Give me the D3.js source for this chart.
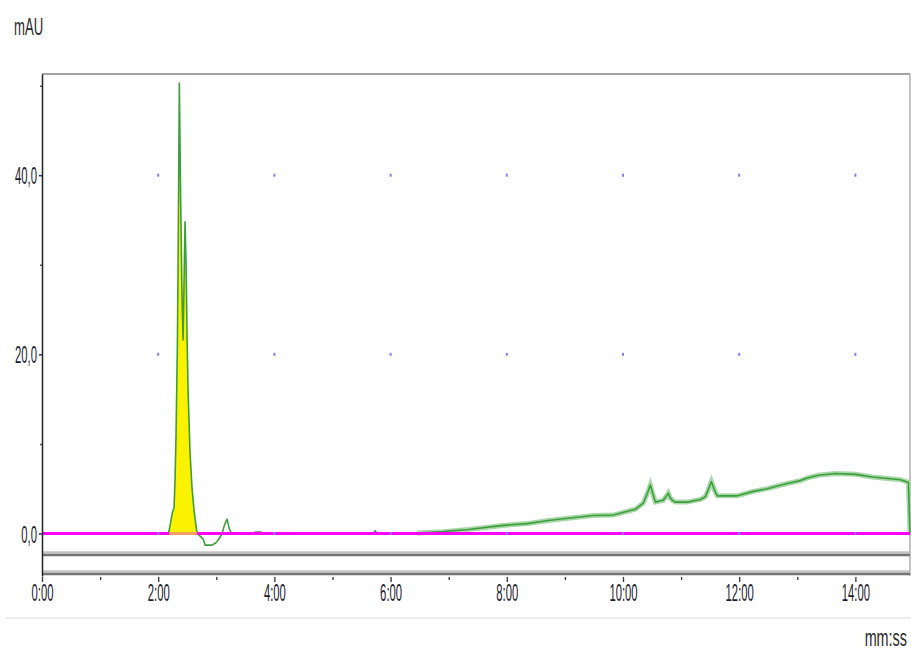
<!DOCTYPE html>
<html lang="en">
<head>
<meta charset="utf-8">
<title>Chromatogram</title>
<script src="https://cdn.jsdelivr.net/npm/d3@7"></script>
<style>
    html, body { margin: 0; padding: 0; background: #fff; }
    svg { display: block; font-family: "Liberation Sans", Arial, sans-serif; }
</style>
</head>
<body>
<div id="chart"></div>
<script>
    // retention time (min) and absorbance (mAU)
    var traceTime = [0, 2.17, 2.187, 2.221, 2.247, 2.273, 2.290, 2.307, 2.330, 2.342, 2.364, 2.385, 2.411,
        2.428, 2.445, 2.462, 2.480, 2.497, 2.514, 2.548, 2.583, 2.618, 2.652, 2.669, 2.721, 2.772, 2.807,
        2.927, 2.979, 3.014, 3.065, 3.100, 3.134, 3.169, 3.186, 3.220, 3.255, 3.341, 3.634, 3.669, 3.771,
        3.806, 5.70, 5.734, 5.77, 6.458, 6.905, 7.336, 7.939, 8.352, 8.714, 9.058, 9.489, 9.833, 10.212,
        10.35, 10.42, 10.47, 10.52, 10.556, 10.694, 10.75, 10.78, 10.81, 10.849, 10.90, 11.107, 11.331,
        11.417, 11.469, 11.521, 11.555, 11.59, 11.624, 11.968, 12.244, 12.485, 12.657, 12.847, 13.053,
        13.174, 13.363, 13.656, 14.0, 14.293, 14.775, 14.913, 14.94];
    var traceMAU = [0, 0, 0.3, 1.5, 2.4, 2.9, 6, 11, 21, 30, 50.3, 38, 26,
        21.6, 28, 34.8, 30, 22, 16, 9, 5, 2.5, 0.8, 0, -0.3, -0.6, -1.3,
        -1.3, -1.1, -0.9, -0.4, 0, 0.8, 1.4, 1.6, 0.6, 0.1, 0, 0, 0.15, 0.15,
        0, 0, 0.3, 0, 0.05, 0.2, 0.45, 0.9, 1.1, 1.45, 1.7, 2.0, 2.05, 2.7,
        3.4, 4.5, 5.4, 4.3, 3.5, 3.7, 4.2, 4.5, 4.0, 3.7, 3.5, 3.5, 3.8,
        4.1, 4.9, 5.8, 5.2, 4.6, 4.2, 4.2, 4.7, 5.0, 5.3, 5.6, 5.9,
        6.2, 6.5, 6.7, 6.6, 6.3, 6.0, 5.7, 0];

    // integrated peak (start, end in min)
    var peakWindow = [2.187, 2.669];
    // flat reference channel below the baseline (mAU)
    var refLevel = -2.4;

    var xMajorTicks = [0, 2, 4, 6, 8, 10, 12, 14];
    var xMinorTicks = [1, 3, 5, 7, 9, 11, 13];
    var xTickLabels = ["0:00", "2:00", "4:00", "6:00", "8:00", "10:00", "12:00", "14:00"];
    var yMajorTicks = [0, 20, 40];
    var yMinorTicks = [10, 30, 50];
    var yTickLabels = ["0,0", "20,0", "40,0"];

    var width = 911, height = 652;
    var plotLeft = 42, plotRight = 910, plotTop = 74, plotBottom = 576;

    var svg = d3.select("#chart").append("svg")
        .attr("width", width)
        .attr("height", height);

    var x = d3.scaleLinear().domain([0, 14.94]).range([plotLeft, plotRight]);
    var y = d3.scaleLinear().domain([-4.75, 51.3]).range([plotBottom, plotTop]);

    var points = traceTime.map(function(t, i) { return { t: t, v: traceMAU[i] }; });

    //frame: top and right borders
    svg.append("line")
        .attr("x1", plotLeft).attr("x2", plotRight)
        .attr("y1", plotTop).attr("y2", plotTop)
        .attr("stroke", "#a3a3a3").attr("stroke-width", 2);
    svg.append("line")
        .attr("x1", plotRight).attr("x2", plotRight)
        .attr("y1", plotTop).attr("y2", plotBottom)
        .attr("stroke", "#b0b0b0").attr("stroke-width", 1.5);

    //reference channel and bottom bar, both drawn as two-tone grey
    [y(refLevel), plotBottom - 2].forEach(function(yy) {
        svg.append("line")
            .attr("x1", plotLeft).attr("x2", plotRight)
            .attr("y1", yy - 2.5).attr("y2", yy - 2.5)
            .attr("stroke", "#c4c4c4").attr("stroke-width", 2.5);
        svg.append("line")
            .attr("x1", plotLeft).attr("x2", plotRight)
            .attr("y1", yy).attr("y2", yy)
            .attr("stroke", "#747474").attr("stroke-width", 2.5);
    });

    //yellow integrated area
    var peakPts = points.filter(function(d) { return d.t >= peakWindow[0] && d.t <= peakWindow[1]; });
    svg.append("path")
        .datum(peakPts)
        .attr("fill", "#fbf200")
        .attr("d", d3.area()
            .x(function(d) { return x(d.t); })
            .y0(y(0))
            .y1(function(d) { return y(d.v); }));

    var line = d3.line()
        .x(function(d) { return x(d.t); })
        .y(function(d) { return y(d.v); });

    //blurred light band of the slow drift
    svg.append("path")
        .datum(points.filter(function(d) { return d.t >= 6.4; }))
        .attr("fill", "none")
        .attr("stroke", "#a9d7a9")
        .attr("stroke-width", 5)
        .attr("d", line);

    //the trace
    svg.append("path")
        .datum(points)
        .attr("fill", "none")
        .attr("stroke", "#3c9f3c")
        .attr("stroke-width", 1.6)
        .attr("stroke-linejoin", "round")
        .attr("d", line);

    //magenta baseline
    svg.append("line")
        .attr("x1", plotLeft).attr("x2", plotRight)
        .attr("y1", y(0)).attr("y2", y(0))
        .attr("stroke", "#ff00ff").attr("stroke-width", 3);

    //peak baseline segment
    svg.append("line")
        .attr("x1", x(peakWindow[0])).attr("x2", x(peakWindow[1]))
        .attr("y1", y(0)).attr("y2", y(0))
        .attr("stroke", "#f5a064").attr("stroke-width", 3);

    //grid dots
    var gridPts = [];
    xMajorTicks.slice(1).forEach(function(t) {
        yMajorTicks.forEach(function(v) { gridPts.push([t, v]); });
    });
    svg.append("g").selectAll("rect")
        .data(gridPts)
        .enter().append("rect")
        .attr("x", function(d) { return x(d[0]) - 1; })
        .attr("y", function(d) { return y(d[1]) - 1.5; })
        .attr("width", 2).attr("height", 3)
        .attr("fill", "#7f7fff");

    var textScale = 0.47;

    //x axis (ticks hang below the bottom bar)
    var xAxis = svg.append("g")
        .attr("transform", "translate(0," + (plotBottom + 1) + ")")
        .call(d3.axisBottom(x)
            .tickValues(xMajorTicks)
            .tickSize(5)
            .tickSizeOuter(0)
            .tickFormat(function(d, i) { return xTickLabels[i]; }));
    xAxis.select(".domain").remove();
    xAxis.selectAll("line").attr("stroke", "#333").attr("stroke-width", 1.3);
    xAxis.selectAll("text")
        .attr("transform", "scale(" + textScale + ",1)")
        .attr("y", 24)
        .attr("dy", 0)
        .style("font-size", "24px")
        .attr("fill", "#1c1c30");

    var xMinor = svg.append("g")
        .attr("transform", "translate(0," + (plotBottom + 1) + ")")
        .call(d3.axisBottom(x).tickValues(xMinorTicks).tickSize(3).tickFormat(""));
    xMinor.select(".domain").remove();
    xMinor.selectAll("line").attr("stroke", "#333").attr("stroke-width", 1.3);

    //y axis
    var yAxis = svg.append("g")
        .attr("transform", "translate(" + plotLeft + ",0)")
        .call(d3.axisLeft(y)
            .tickValues(yMajorTicks)
            .tickSize(3)
            .tickSizeOuter(0)
            .tickFormat(function(d, i) { return yTickLabels[i]; }));
    yAxis.select(".domain").attr("stroke", "#222").attr("stroke-width", 1.5);
    yAxis.selectAll("line").attr("stroke", "#2a2a70").attr("stroke-width", 1.5);
    yAxis.selectAll("text")
        .attr("transform", "scale(" + textScale + ",1)")
        .attr("x", -5 / textScale)
        .attr("dy", "0.36em")
        .style("font-size", "24px")
        .attr("fill", "#1c1c30");

    var yMinor = svg.append("g")
        .attr("transform", "translate(" + plotLeft + ",0)")
        .call(d3.axisLeft(y).tickValues(yMinorTicks).tickSize(2).tickFormat(""));
    yMinor.select(".domain").remove();
    yMinor.selectAll("line").attr("stroke", "#555").attr("stroke-width", 1.5);

    //separator under the axis
    svg.append("line")
        .attr("x1", 6).attr("x2", width)
        .attr("y1", 618).attr("y2", 618)
        .attr("stroke", "#e6e6e6").attr("stroke-width", 1.5);

    //axis titles
    svg.append("text")
        .attr("transform", "translate(14,35) scale(0.57,1)")
        .style("font-size", "23px")
        .attr("fill", "#2a2a2a")
        .text("mAU");

    svg.append("text")
        .attr("transform", "translate(907,646) scale(0.6,1)")
        .attr("text-anchor", "end")
        .style("font-size", "24px")
        .attr("fill", "#2a2a2a")
        .text("mm:ss");
</script>
</body>
</html>
